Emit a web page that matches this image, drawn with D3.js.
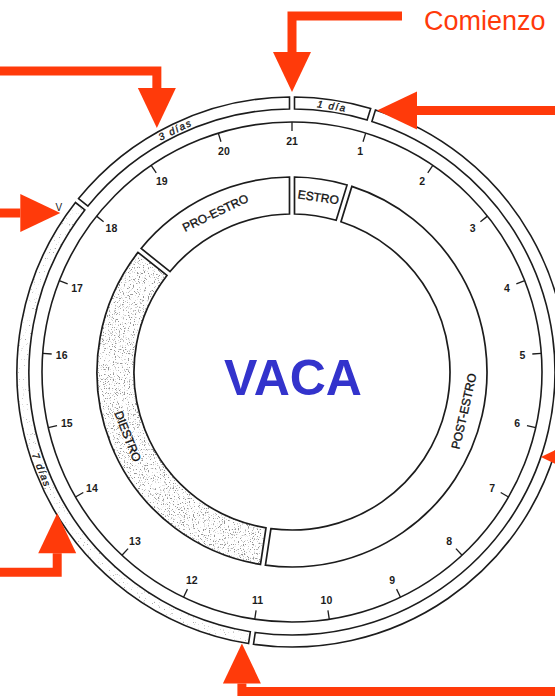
<!DOCTYPE html>
<html>
<head>
<meta charset="utf-8">
<script src="https://cdn.jsdelivr.net/npm/d3@7"></script>
<style>
  html, body { margin: 0; padding: 0; background: #fff; }
  svg { display: block; }
</style>
</head>
<body>
<svg id="chart" width="555" height="696"></svg>
<script>
// day numbers printed round the cycle (21 at the top)
var dayLabels = [1, 2, 3, 4, 5, 6, 7, 8, 9, 10, 11, 12, 13, 14, 15, 16, 17, 18, 19, 20, 21];
var cycleDays = 21;

// inner ring: phases of the cycle
var phaseNames = ["ESTRO", "POST-ESTRO", "DIESTRO", "PRO-ESTRO"];
var phaseStart = [0, 1, 11, 18];
var phaseEnd   = [1, 11, 18, 21];
var phaseShaded = [false, false, true, false];

// outer band: durations
var bandNames = ["1 día", "", "7 días", "3 días"];
var bandStart = [0, 1, 11, 18];
var bandEnd   = [1, 11, 18, 21];
var bandShaded = [false, false, true, false];

// red arrows: day they point at, distance from centre
var arrowDay    = [21, 19.31, 1.05, 17.76, 13.94, 11.11, 6.35];
var arrowRadius = [280, 279, 275, 281, 274, 276, 263];

var title = "VACA";
var startLabel = "Comienzo";

var svg = d3.select("#chart");
var cx = 292, cy = 372;
var red = "#ff3a0a", ink = "#1c1c1c";

var ang = d3.scaleLinear().domain([0, cycleDays]).range([0, 2 * Math.PI]);
function polar(day, r) {
  var a = ang(day);
  return [cx + r * Math.sin(a), cy - r * Math.cos(a)];
}
function deg(day) { return ang(day) * 180 / Math.PI; }

// speckle filters for the shaded parts of the scan
var defs = svg.append("defs");
function speckle(id, freq, k, b, grey) {
  var f = defs.append("filter").attr("id", id)
    .attr("x", 0).attr("y", 0).attr("width", 1).attr("height", 1);
  f.append("feTurbulence").attr("type", "fractalNoise")
    .attr("baseFrequency", freq).attr("numOctaves", 2).attr("seed", 4);
  f.append("feColorMatrix").attr("type", "matrix")
    .attr("values", "0 0 0 0 " + grey + " 0 0 0 0 " + grey + " 0 0 0 0 " + grey + " " + k + " 0 0 0 " + b);
  f.append("feComposite").attr("in2", "SourceGraphic").attr("operator", "in");
}
speckle("speckHeavy", 0.8, 8, -4.7, 0.3);
speckle("speckLight", 0.8, 8, -5.4, 0.4);

var g = svg.append("g").attr("transform", "translate(" + cx + "," + cy + ")");

// outer band
var R1 = 275, R2 = 263, R3 = 250;
var bandArc = d3.arc().innerRadius(R2).outerRadius(R1)
  .padRadius((R1 + R2) / 2).padAngle(5 / ((R1 + R2) / 2))
  .startAngle(function (i) { return ang(bandStart[i]); })
  .endAngle(function (i) { return ang(bandEnd[i]); });

var bandIdx = d3.range(bandNames.length);
g.selectAll("path.bandFill")
  .data(bandIdx.filter(function (i) { return bandShaded[i]; }))
  .enter().append("path")
  .attr("d", bandArc).attr("fill", "#000")
  .attr("filter", "url(#speckLight)");
g.selectAll("path.band")
  .data(bandIdx)
  .enter().append("path")
  .attr("class", "band")
  .attr("d", bandArc)
  .attr("fill", "none")
  .attr("stroke", ink).attr("stroke-width", 1.6);

// tick circle
g.append("circle").attr("r", R3)
  .attr("fill", "none").attr("stroke", ink).attr("stroke-width", 1.6);

// day ticks + labels
g.selectAll("line.tick")
  .data(dayLabels)
  .enter().append("line")
  .attr("x1", function (d) { return polar(d, R3)[0] - cx; })
  .attr("y1", function (d) { return polar(d, R3)[1] - cy; })
  .attr("x2", function (d) { return polar(d, R3 - 9)[0] - cx; })
  .attr("y2", function (d) { return polar(d, R3 - 9)[1] - cy; })
  .attr("stroke", ink).attr("stroke-width", 1.3);

g.selectAll("text.day")
  .data(dayLabels)
  .enter().append("text")
  .attr("x", function (d) { return polar(d, R3 - 19)[0] - cx; })
  .attr("y", function (d) { return polar(d, R3 - 19)[1] - cy; })
  .attr("text-anchor", "middle")
  .attr("dominant-baseline", "central")
  .attr("font-family", "Liberation Sans, Arial, sans-serif")
  .attr("font-weight", "bold")
  .attr("font-size", 10.5)
  .attr("fill", ink)
  .text(function (d) { return d; });

// inner phase ring
var P1 = 195, P2 = 158;
var phaseArc = d3.arc().innerRadius(P2).outerRadius(P1)
  .padRadius((P1 + P2) / 2).padAngle(5 / ((P1 + P2) / 2))
  .startAngle(function (i) { return ang(phaseStart[i]); })
  .endAngle(function (i) { return ang(phaseEnd[i]); });

var phaseIdx = d3.range(phaseNames.length);
g.selectAll("path.phaseFill")
  .data(phaseIdx.filter(function (i) { return phaseShaded[i]; }))
  .enter().append("path")
  .attr("d", phaseArc).attr("fill", "#000")
  .attr("filter", "url(#speckHeavy)");
g.selectAll("path.phase")
  .data(phaseIdx)
  .enter().append("path")
  .attr("class", "phase")
  .attr("d", phaseArc)
  .attr("fill", "none")
  .attr("stroke", ink).attr("stroke-width", 1.7);

// labels along rings, turned so they read like the printed ones
function ringLabel(sel, mid, r) {
  var p = polar(mid, r), a = deg(mid);
  var rot = (a > 90 && a < 270) ? a - 180 : a;
  sel.attr("transform", "translate(" + (p[0] - cx) + "," + (p[1] - cy) + ") rotate(" + rot + ")");
}

phaseIdx.forEach(function (i) {
  var t = g.append("text")
    .attr("text-anchor", "middle")
    .attr("dominant-baseline", "central")
    .attr("font-family", "Liberation Sans, Arial, sans-serif")
    .attr("font-size", 12)
    .attr("fill", "#111")
    .attr("stroke", "#111").attr("stroke-width", 0.35)
    .text(phaseNames[i]);
  ringLabel(t, (phaseStart[i] + phaseEnd[i]) / 2, (P1 + P2) / 2);
});

bandIdx.forEach(function (i) {
  if (!bandNames[i]) return;
  var t = g.append("text")
    .attr("text-anchor", "middle")
    .attr("dominant-baseline", "central")
    .attr("font-family", "Liberation Sans, Arial, sans-serif")
    .attr("font-style", "italic")
    .attr("font-size", 10)
    .attr("letter-spacing", 1.5)
    .attr("fill", "#111")
    .attr("stroke", "#111").attr("stroke-width", 0.3)
    .text(bandNames[i]);
  ringLabel(t, (bandStart[i] + bandEnd[i]) / 2, (R1 + R2) / 2);
});

// little mark beside the 18th day end of the band
var vm = polar(17.8, 285);
svg.append("text")
  .attr("x", vm[0]).attr("y", vm[1])
  .attr("text-anchor", "middle").attr("dominant-baseline", "central")
  .attr("font-family", "Liberation Sans, Arial, sans-serif")
  .attr("font-size", 10).attr("fill", ink)
  .text("V");

// title
svg.append("text")
  .attr("x", cx + 1).attr("y", 395)
  .attr("text-anchor", "middle")
  .attr("font-family", "Liberation Sans, Arial, sans-serif")
  .attr("font-weight", "bold")
  .attr("font-size", 50)
  .attr("fill", "#3333cc")
  .text(title);

// red arrows: head at the target, shaft legs from the head base
var headLen = 40, headHalf = 19, shaft = 9;
var arrowDir  = [[0, 1], [0, 1], [-1, 0], [1, 0], [0, -1], [0, -1], [-1, 0]];
var arrowLegs = [
  [[0, -36], [110, 0]],
  [[0, -17], [-170, 0]],
  [[150, 0]],
  [[-30, 0]],
  [[0, 19], [-70, 0]],
  [[0, 8], [330, 0]],
  [[40, 0]]
];

arrowDay.forEach(function (day, i) {
  var tip = polar(day, arrowRadius[i]);
  var d = arrowDir[i];
  var base = [tip[0] - d[0] * headLen, tip[1] - d[1] * headLen];
  var pts = [base];
  arrowLegs[i].forEach(function (l) {
    var last = pts[pts.length - 1];
    pts.push([last[0] + l[0], last[1] + l[1]]);
  });
  svg.append("path")
    .attr("d", d3.line()(pts))
    .attr("fill", "none").attr("stroke", red)
    .attr("stroke-width", shaft).attr("stroke-linejoin", "miter")
    .attr("stroke-linecap", "butt");
  var px = -d[1], py = d[0];
  svg.append("path")
    .attr("d", d3.line()([
      tip,
      [base[0] + px * headHalf, base[1] + py * headHalf],
      [base[0] - px * headHalf, base[1] - py * headHalf]
    ]) + "Z")
    .attr("fill", red);
});

svg.append("text")
  .attr("x", 424).attr("y", 30)
  .attr("font-family", "Liberation Sans, Arial, sans-serif")
  .attr("font-size", 27)
  .attr("fill", red)
  .text(startLabel);
</script>
</body>
</html>
